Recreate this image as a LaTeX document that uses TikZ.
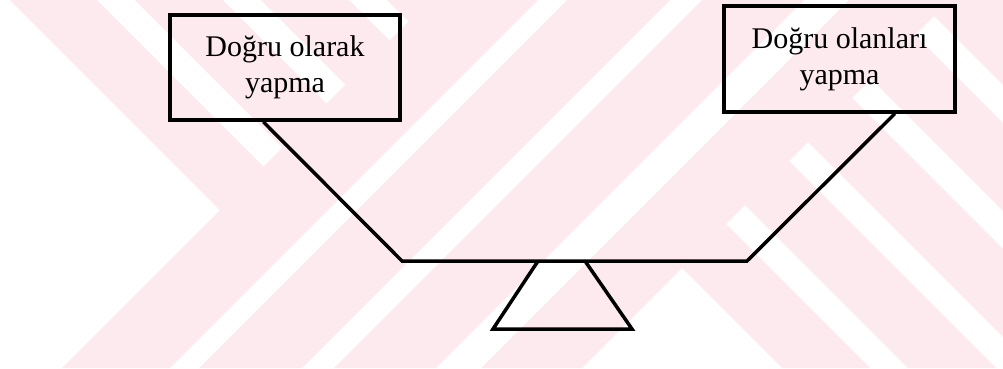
\documentclass[tikz,border=0pt]{standalone}
\usepackage{fontspec}
\setmainfont{Liberation Serif}
\usetikzlibrary{positioning}
\definecolor{wmpink}{RGB}{252,234,238}
\tikzset{
  labelbox/.style={draw, line width=3.5pt, minimum width=230pt, minimum height=105pt,
    align=center, inner sep=0pt, font=\fontsize{30}{36}\selectfont},
  beam/.style={line width=3.5pt, line join=miter}
}

\begin{document}
\begin{tikzpicture}[x=1pt, y=-1pt]
  \useasboundingbox (0,0) rectangle (1003,368);
  % watermark in the background
  \begin{scope}
    \clip (0,0) -- (430,0) -- (62,368) -- (0,368) -- cycle;
    \foreach \c/\d in {10/97, 135/223, 261/349, 387/475}
      \fill[wmpink] (\c,0) -- (\d,0) -- (\d+368,368) -- (\c+368,368) -- cycle;
  \end{scope}
  \foreach \a/\b in {430/538, 567/670, 702/804, 849/950}
    \fill[wmpink] (\a,0) -- (\b,0) -- (\b-368,368) -- (\a-368,368) -- cycle;
  \begin{scope}
    \clip (950,0) -- (1003,0) -- (1003,368) -- (582,368) -- cycle;
    \foreach \c/\d in {414/502, 540/628, 666/754, 792/880, 918/1006}
      \fill[wmpink] (\c,0) -- (\d,0) -- (\d+368,368) -- (\c+368,368) -- cycle;
  \end{scope}
  %
  \node[labelbox] (boxL) at (285,67.5) {Doğru olarak\\yapma};
  \node[labelbox, minimum width=231pt, minimum height=106pt] (boxR) at (839.5,59) {Doğru olanları\\yapma};
  \coordinate (beamL) at (402,261);
  \coordinate (beamR) at (747,261);
  \draw[beam] ([xshift=95pt]boxL.south west) -- (beamL) -- (beamR) -- ([xshift=-62pt]boxR.south east);
  % stand under the beam
  \draw[beam] (538,261) -- (493,329) -- (632,329) -- (585,261);
\end{tikzpicture}
\end{document}
